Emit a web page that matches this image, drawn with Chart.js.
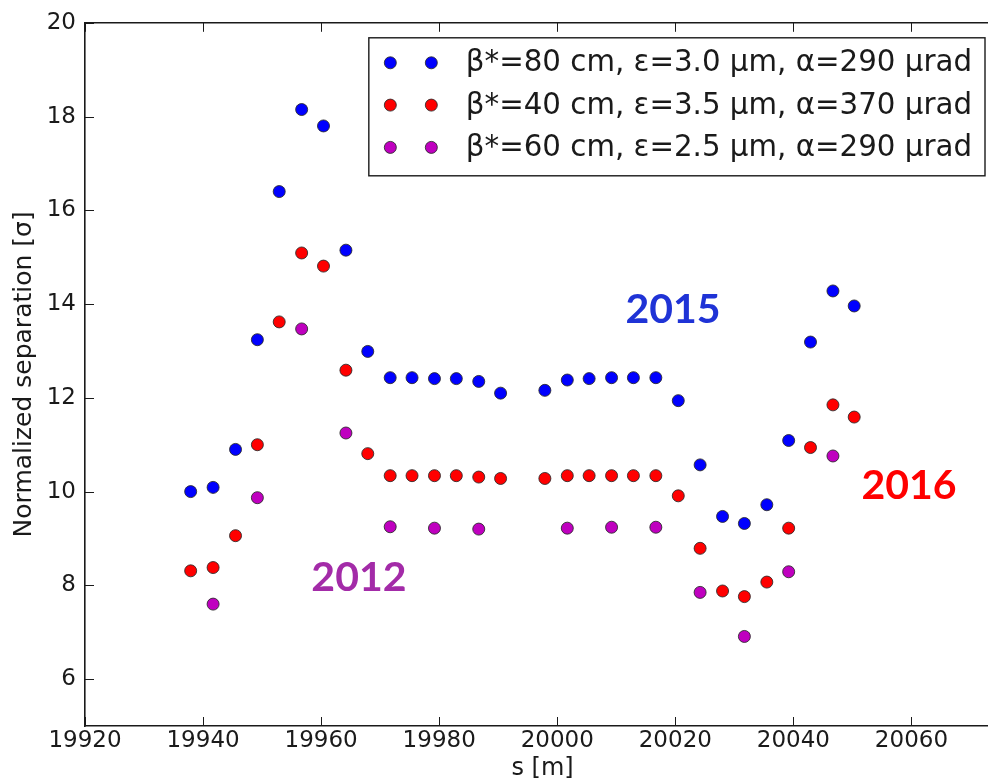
<!DOCTYPE html>
<html>
<head>
<meta charset="utf-8">
<script src="https://cdn.jsdelivr.net/npm/chart.js@4.4.0/dist/chart.umd.min.js"></script>
<style>
  html, body { margin: 0; padding: 0; background: #ffffff; overflow: hidden; width: 988px; height: 784px; }
  canvas { display: block; }
</style>
</head>
<body>
<canvas id="chart" width="1012" height="784"></canvas>
<script>
// Longitudinal positions of the long-range encounters [m]
const sPositions = [
  19937.9, 19941.7, 19945.5, 19949.2, 19952.9, 19956.7, 19960.4, 19964.2, 19967.9, 19971.7,
  19975.4, 19979.2, 19982.9, 19986.7, 19990.4, 19997.9, 20001.7, 20005.4, 20009.2, 20012.9,
  20016.7, 20020.5, 20024.2, 20028.0, 20031.7, 20035.5, 20039.2, 20042.9, 20046.7, 20050.3
];

// beta* = 80 cm, eps = 3.0 um, alpha = 290 urad
const sep80 = [
  10.00, 10.09, 10.90, 13.24, 16.40, 18.15, 17.80, 15.15, 12.99, 12.43,
  12.43, 12.41, 12.41, 12.35, 12.10, 12.16, 12.38, 12.41, 12.43, 12.43,
  12.43, 11.94, 10.57, 9.47, 9.32, 9.72, 11.09, 13.19, 14.28, 13.96
];

// beta* = 40 cm, eps = 3.5 um, alpha = 370 urad
const sep40 = [
  8.31, 8.38, 9.06, 11.00, 13.62, 15.09, 14.81, 12.59, 10.81, 10.34,
  10.34, 10.34, 10.34, 10.31, 10.28, 10.28, 10.34, 10.34, 10.34, 10.34,
  10.34, 9.91, 8.79, 7.88, 7.76, 8.07, 9.22, 10.94, 11.85, 11.59
];

// beta* = 60 cm, eps = 2.5 um, alpha = 290 urad (every second encounter)
const sPositions60 = [
  19941.7, 19949.2, 19956.7, 19964.2, 19971.7, 19979.2, 19986.7,
  20001.7, 20009.2, 20016.7, 20024.2, 20031.7, 20039.2, 20046.7
];
const sep60 = [
  7.60, 9.87, 13.47, 11.25, 9.25, 9.22, 9.20,
  9.22, 9.24, 9.24, 7.85, 6.91, 8.29, 10.76
];

const seriesLabels = [
  'β*=80 cm, ε=3.0 μm, α=290 μrad',
  'β*=40 cm, ε=3.5 μm, α=370 μrad',
  'β*=60 cm, ε=2.5 μm, α=290 μrad'
];

const xTickValues = [19920, 19940, 19960, 19980, 20000, 20020, 20040, 20060];
const yTickValues = [6, 8, 10, 12, 14, 16, 18, 20];

const toPoints = (xs, ys) => xs.map((x, i) => ({ x: x, y: ys[i] }));

const FONT = '"DejaVu Sans", "Bitstream Vera Sans", sans-serif';
const INK = '#1a1a1a';

// Matplotlib-style frame: top spine plus inward tick marks on every side
const frameTicks = {
  id: 'frameTicks',
  afterDatasetsDraw(chart) {
    const { ctx, chartArea: a, scales } = chart;
    ctx.save();
    ctx.strokeStyle = INK;
    ctx.lineWidth = 1.6;
    ctx.beginPath();
    ctx.moveTo(a.left, a.top);
    ctx.lineTo(a.right, a.top);
    ctx.stroke();
    ctx.lineWidth = 1;
    const len = 9;
    ctx.beginPath();
    scales.x.ticks.forEach(t => {
      const px = Math.round(scales.x.getPixelForValue(t.value)) + 0.5;
      ctx.moveTo(px, a.bottom); ctx.lineTo(px, a.bottom - len);
      ctx.moveTo(px, a.top); ctx.lineTo(px, a.top + len);
    });
    scales.y.ticks.forEach(t => {
      const py = Math.round(scales.y.getPixelForValue(t.value)) + 0.5;
      ctx.moveTo(a.left, py); ctx.lineTo(a.left + len, py);
      ctx.moveTo(a.right, py); ctx.lineTo(a.right - len, py);
    });
    ctx.stroke();
    ctx.restore();
  }
};

// Boxed legend in the upper right with two markers per entry
const markerLegend = {
  id: 'markerLegend',
  afterDraw(chart) {
    const { ctx, chartArea: a } = chart;
    const ds = chart.data.datasets;
    ctx.save();
    ctx.font = '29.3px ' + FONT;
    const textW = Math.max(...ds.map(d => ctx.measureText(d.label).width));
    const right = a.right - 15, top = a.top + 15;
    const left = right - 13 - textW - 97;
    const h = 138;
    ctx.fillStyle = '#ffffff';
    ctx.fillRect(left, top, right - left, h);
    ctx.strokeStyle = INK;
    ctx.lineWidth = 1.4;
    ctx.strokeRect(left, top, right - left, h);
    ds.forEach((d, i) => {
      const y = top + 25 + i * 42.3;
      [left + 21.5, left + 62.5].forEach(x => {
        ctx.beginPath();
        ctx.arc(x, y, d.pointRadius, 0, Math.PI * 2);
        ctx.fillStyle = d.backgroundColor;
        ctx.fill();
        ctx.lineWidth = d.borderWidth;
        ctx.strokeStyle = d.borderColor;
        ctx.stroke();
      });
      ctx.fillStyle = INK;
      ctx.textBaseline = 'middle';
      ctx.textAlign = 'left';
      ctx.fillText(d.label, left + 97, y + 1);
    });
    ctx.restore();
  }
};

// Year annotations placed in data coordinates
const yearTags = {
  id: 'yearTags',
  afterDraw(chart, args, opts) {
    const { ctx, scales } = chart;
    ctx.save();
    ctx.font = 'bold 41px Lato, "Open Sans", sans-serif';
    ctx.textAlign = 'center';
    ctx.textBaseline = 'middle';
    opts.tags.forEach(t => {
      ctx.fillStyle = t.color;
      ctx.fillText(t.text, scales.x.getPixelForValue(t.s), scales.y.getPixelForValue(t.v));
    });
    ctx.restore();
  }
};

const pointStyle = (color) => ({
  backgroundColor: color,
  borderColor: 'rgba(40,40,40,0.85)',
  borderWidth: 1,
  pointRadius: 6,
  pointHoverRadius: 6,
  showLine: false
});

new Chart(document.getElementById('chart'), {
  type: 'scatter',
  data: {
    datasets: [
      Object.assign({ label: seriesLabels[0], data: toPoints(sPositions, sep80) }, pointStyle('#0000ff')),
      Object.assign({ label: seriesLabels[1], data: toPoints(sPositions, sep40) }, pointStyle('#ff0000')),
      Object.assign({ label: seriesLabels[2], data: toPoints(sPositions60, sep60) }, pointStyle('#bf00bf'))
    ]
  },
  options: {
    responsive: false,
    animation: false,
    events: [],
    layout: { padding: { left: 0, top: 17, right: 12, bottom: 0 } },
    plugins: {
      legend: { display: false },
      tooltip: { enabled: false },
      yearTags: {
        tags: [
          { text: '2015', s: 20019.6, v: 13.87, color: '#1f33d6' },
          { text: '2016', s: 20059.6, v: 10.12, color: '#ff0000' },
          { text: '2012', s: 19966.4, v: 8.17, color: '#a32ba8' }
        ]
      }
    },
    scales: {
      x: {
        type: 'linear',
        min: 19920,
        max: 20075,
        afterBuildTicks: s => { s.ticks = xTickValues.map(v => ({ value: v })); },
        afterFit: s => { s.height = 58; },
        grid: { display: false, drawTicks: false },
        border: { display: true, color: INK, width: 1.6 },
        ticks: {
          color: INK, padding: 1, maxRotation: 0, autoSkip: false,
          font: { family: FONT, size: 23 },
          callback: v => String(v)
        },
        title: {
          display: true, text: 's [m]', color: INK,
          font: { family: FONT, size: 24 },
          padding: { top: 0, bottom: 1 }
        }
      },
      y: {
        type: 'linear',
        min: 5,
        max: 20,
        afterBuildTicks: s => { s.ticks = yTickValues.map(v => ({ value: v })); },
        afterFit: s => { s.width = 85; },
        grid: { display: false, drawTicks: false },
        border: { display: true, color: INK, width: 1.6 },
        ticks: {
          color: INK, padding: 9, autoSkip: false,
          font: { family: FONT, size: 23 },
          callback: v => String(v)
        },
        title: {
          display: true, text: 'Normalized separation [σ]', color: INK,
          font: { family: FONT, size: 25 },
          padding: { top: 9, bottom: 0 }
        }
      }
    }
  },
  plugins: [frameTicks, markerLegend, yearTags]
});
</script>
</body>
</html>
